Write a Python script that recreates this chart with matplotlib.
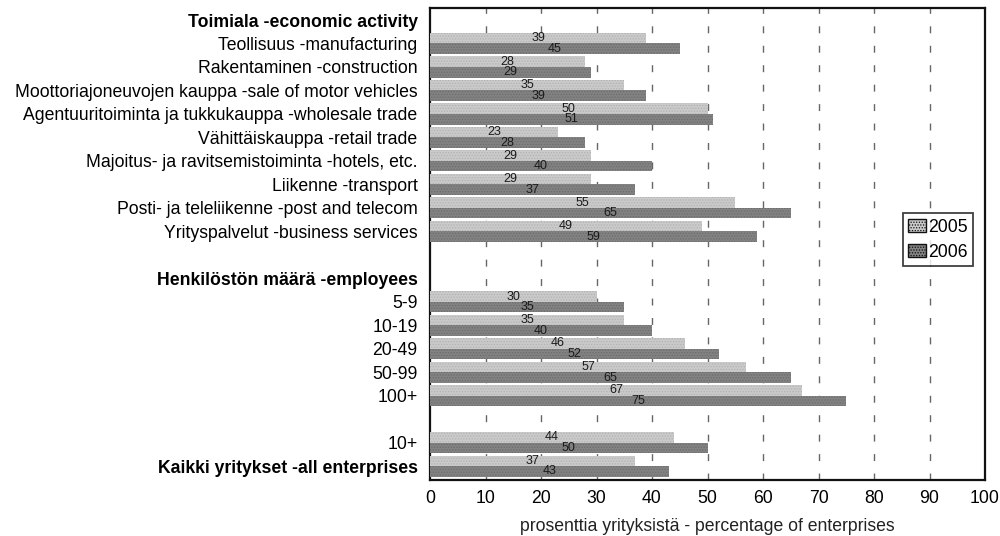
import matplotlib
matplotlib.use("Agg")
import matplotlib.pyplot as plt
import numpy as np

plt.rcParams['font.family'] = ['Liberation Sans', 'DejaVu Sans']
plt.rcParams['hatch.linewidth'] = 0.6

categories = [
    "Toimiala -economic activity",
    "Teollisuus -manufacturing",
    "Rakentaminen -construction",
    "Moottoriajoneuvojen kauppa -sale of motor vehicles",
    "Agentuuritoiminta ja tukkukauppa -wholesale trade",
    "Vähittäiskauppa -retail trade",
    "Majoitus- ja ravitsemistoiminta -hotels, etc.",
    "Liikenne -transport",
    "Posti- ja teleliikenne -post and telecom",
    "Yrityspalvelut -business services",
    "",
    "Henkilöstön määrä -employees",
    "5-9",
    "10-19",
    "20-49",
    "50-99",
    "100+",
    "",
    "10+",
    "Kaikki yritykset -all enterprises",
]
bold_labels = {"Toimiala -economic activity", "Henkilöstön määrä -employees",
               "Kaikki yritykset -all enterprises"}

values_2005 = [None, 39, 28, 35, 50, 23, 29, 29, 55, 49, None, None, 30, 35, 46, 57, 67, None, 44, 37]
values_2006 = [None, 45, 29, 39, 51, 28, 40, 37, 65, 59, None, None, 35, 40, 52, 65, 75, None, 50, 43]
series_names = ["2005", "2006"]
xticks = [0, 10, 20, 30, 40, 50, 60, 70, 80, 90, 100]
xlabel = "prosenttia yrityksistä - percentage of enterprises"

FS = 12.7

fig = plt.figure(figsize=(10, 5.36), dpi=100)
ax = fig.add_axes([0.43, 0.104, 0.555, 0.881])

n = len(categories)
y = np.arange(n)
h = 0.45
idx = [i for i, v in enumerate(values_2005) if v is not None]
v05 = [values_2005[i] for i in idx]
v06 = [values_2006[i] for i in idx]
yy = np.array(idx, dtype=float)

b1 = ax.barh(yy - h / 2, v05, height=h, color='#cacaca', edgecolor='#b2b2b2',
             hatch='......', linewidth=0, label=series_names[0], zorder=3)
b2 = ax.barh(yy + h / 2, v06, height=h, color='#828282', edgecolor='#6c6c6c',
             hatch='......', linewidth=0, label=series_names[1], zorder=3)

for bars, vals in ((b1, v05), (b2, v06)):
    for bar, v in zip(bars, vals):
        ax.text(v / 2, bar.get_y() + bar.get_height() / 2, str(v),
                ha='center', va='center', fontsize=9, color='#1a1a1a', zorder=4)

ax.set_xlim(0, 100)
ax.set_ylim(19.6, -0.51)
ax.set_xticks(xticks)
ax.set_xticklabels([str(t) for t in xticks], fontsize=FS)
ax.set_yticks(y)
ax.set_yticklabels(categories, fontsize=FS)
for lbl in ax.get_yticklabels():
    if lbl.get_text() in bold_labels:
        lbl.set_fontweight('bold')
ax.tick_params(axis='x', length=0, pad=7)
ax.tick_params(axis='y', length=0, pad=9)
ax.set_xlabel(xlabel, fontsize=FS, labelpad=8, color='#222222')

for t in xticks[1:-1]:
    ax.axvline(t, color='#666666', linewidth=1.0, linestyle=(0, (5, 9)), zorder=1)

for sp in ax.spines.values():
    sp.set_linewidth(1.6)
    sp.set_color('#111111')

leg = ax.legend(loc='upper left', bbox_to_anchor=(0.852, 0.565), fontsize=FS,
                frameon=True, fancybox=False, edgecolor='#111111',
                handlelength=1.0, handleheight=0.7, handletextpad=0.15,
                borderpad=0.3, labelspacing=0.45, borderaxespad=0)
leg.get_frame().set_linewidth(1.3)
for hnd in leg.legend_handles:
    hnd.set_edgecolor('#111111')
    hnd.set_linewidth(1.0)

fig.savefig("out.png", dpi=100, facecolor='white')
